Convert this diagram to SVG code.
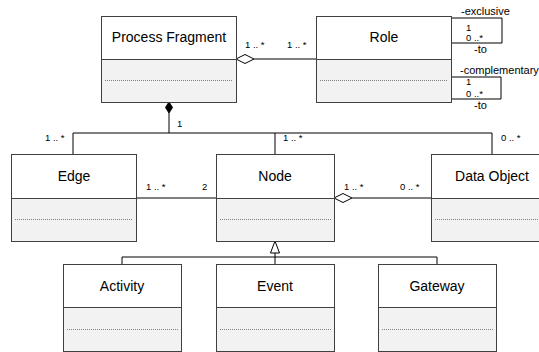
<svg xmlns="http://www.w3.org/2000/svg" width="539" height="352" viewBox="0 0 539 352">
  <style>
    .hd { fill: #ffffff; stroke: #404040; stroke-width: 1; }
    .bd { fill: #f2f2f2; stroke: #404040; stroke-width: 1; }
    .dots { stroke: #7f7f7f; stroke-width: 1; stroke-dasharray: 1 1; }
    .name { font-family: "Liberation Sans", Arial, sans-serif; font-size: 14px; fill: #000; text-anchor: middle; }
    .lbl { font-family: "Liberation Sans", Arial, sans-serif; font-size: 9.5px; fill: #000; }
    .rn { font-family: "Liberation Sans", Arial, sans-serif; font-size: 11px; fill: #000; }
    .ln { fill: none; stroke: #000; stroke-width: 1; }
  </style>

  <!-- connectors -->
  <g id="connectors">
    <!-- Process Fragment to Role aggregation -->
    <line class="ln" x1="254" y1="59" x2="316" y2="59"/>
    <polygon points="236,59 245,54.5 254,59 245,63.5" fill="#fff" stroke="#000"/>
    <!-- self associations on Role -->
    <polyline class="ln" points="451,18 502,18 502,43 451,43"/>
    <polyline class="ln" points="451,77 501,77 501,99 451,99"/>
    <!-- composition from Process Fragment -->
    <polygon points="169,102 172.5,107.5 169,113 165.5,107.5" fill="#000" stroke="#000"/>
    <line class="ln" x1="169" y1="113" x2="169" y2="133"/>
    <polyline class="ln" points="73,154 73,133 492,133 492,154"/>
    <line class="ln" x1="275" y1="133" x2="275" y2="154"/>
    <!-- Edge to Node -->
    <line class="ln" x1="136" y1="198" x2="216" y2="198"/>
    <!-- Node to Data Object aggregation -->
    <line class="ln" x1="352" y1="198" x2="431" y2="198"/>
    <polygon points="334,198 343,193.5 352,198 343,202.5" fill="#fff" stroke="#000"/>
    <!-- generalization -->
    <polygon points="275,241 279.5,253 270.5,253" fill="#fff" stroke="#000"/>
    <line class="ln" x1="275" y1="253" x2="275" y2="264"/>
    <polyline class="ln" points="122,264 122,257 437,257 437,264"/>

    <!-- multiplicities and role names -->
    <text class="lbl" x="245" y="48">1 .. *</text>
    <text class="lbl" x="287" y="48">1 .. *</text>
    <text class="rn" x="461" y="15">-exclusive</text>
    <text class="lbl" x="466" y="30.5">1</text>
    <text class="lbl" x="466" y="41">0 ..*</text>
    <text class="rn" x="474" y="53">-to</text>
    <text class="rn" x="460" y="74">-complementary</text>
    <text class="lbl" x="466" y="85">1</text>
    <text class="lbl" x="466" y="97">0 ..*</text>
    <text class="rn" x="474" y="109">-to</text>
    <text class="lbl" x="177" y="127">1</text>
    <text class="lbl" x="45" y="141">1 .. *</text>
    <text class="lbl" x="283" y="141">1 .. *</text>
    <text class="lbl" x="501" y="141">0 .. *</text>
    <text class="lbl" x="146" y="190">1 .. *</text>
    <text class="lbl" x="202" y="190">2</text>
    <text class="lbl" x="344" y="190">1 .. *</text>
    <text class="lbl" x="400" y="190">0 .. *</text>
  </g>

  <g id="process-fragment">
    <rect class="hd" x="101.5" y="16.5" width="135" height="43"/>
    <rect class="bd" x="101.5" y="59.5" width="135" height="43"/>
    <line class="dots" x1="105" y1="80.5" x2="232" y2="80.5"/>
    <text class="name" x="169" y="42">Process Fragment</text>
  </g>

  <g id="role">
    <rect class="hd" x="316.5" y="16.5" width="135" height="43"/>
    <rect class="bd" x="316.5" y="59.5" width="135" height="43"/>
    <line class="dots" x1="320" y1="80.5" x2="447" y2="80.5"/>
    <text class="name" x="384" y="42">Role</text>
  </g>

  <g id="edge">
    <rect class="hd" x="11.5" y="154.5" width="125" height="44"/>
    <rect class="bd" x="11.5" y="198.5" width="125" height="43"/>
    <line class="dots" x1="15" y1="219.5" x2="132" y2="219.5"/>
    <text class="name" x="74" y="181">Edge</text>
  </g>

  <g id="node">
    <rect class="hd" x="216.5" y="154.5" width="118" height="44"/>
    <rect class="bd" x="216.5" y="198.5" width="118" height="43"/>
    <line class="dots" x1="220" y1="219.5" x2="331" y2="219.5"/>
    <text class="name" x="275" y="181">Node</text>
  </g>

  <g id="data-object">
    <rect class="hd" x="431.5" y="154.5" width="122" height="44"/>
    <rect class="bd" x="431.5" y="198.5" width="122" height="43"/>
    <line class="dots" x1="435" y1="219.5" x2="550" y2="219.5"/>
    <text class="name" x="492" y="181">Data Object</text>
  </g>

  <g id="activity">
    <rect class="hd" x="63.5" y="264.5" width="118" height="43"/>
    <rect class="bd" x="63.5" y="307.5" width="118" height="44"/>
    <line class="dots" x1="67" y1="329.5" x2="178" y2="329.5"/>
    <text class="name" x="122" y="291">Activity</text>
  </g>

  <g id="event">
    <rect class="hd" x="216.5" y="264.5" width="118" height="43"/>
    <rect class="bd" x="216.5" y="307.5" width="118" height="44"/>
    <line class="dots" x1="220" y1="329.5" x2="331" y2="329.5"/>
    <text class="name" x="275" y="291">Event</text>
  </g>

  <g id="gateway">
    <rect class="hd" x="378.5" y="264.5" width="118" height="43"/>
    <rect class="bd" x="378.5" y="307.5" width="118" height="44"/>
    <line class="dots" x1="382" y1="329.5" x2="493" y2="329.5"/>
    <text class="name" x="437" y="291">Gateway</text>
  </g>
</svg>
